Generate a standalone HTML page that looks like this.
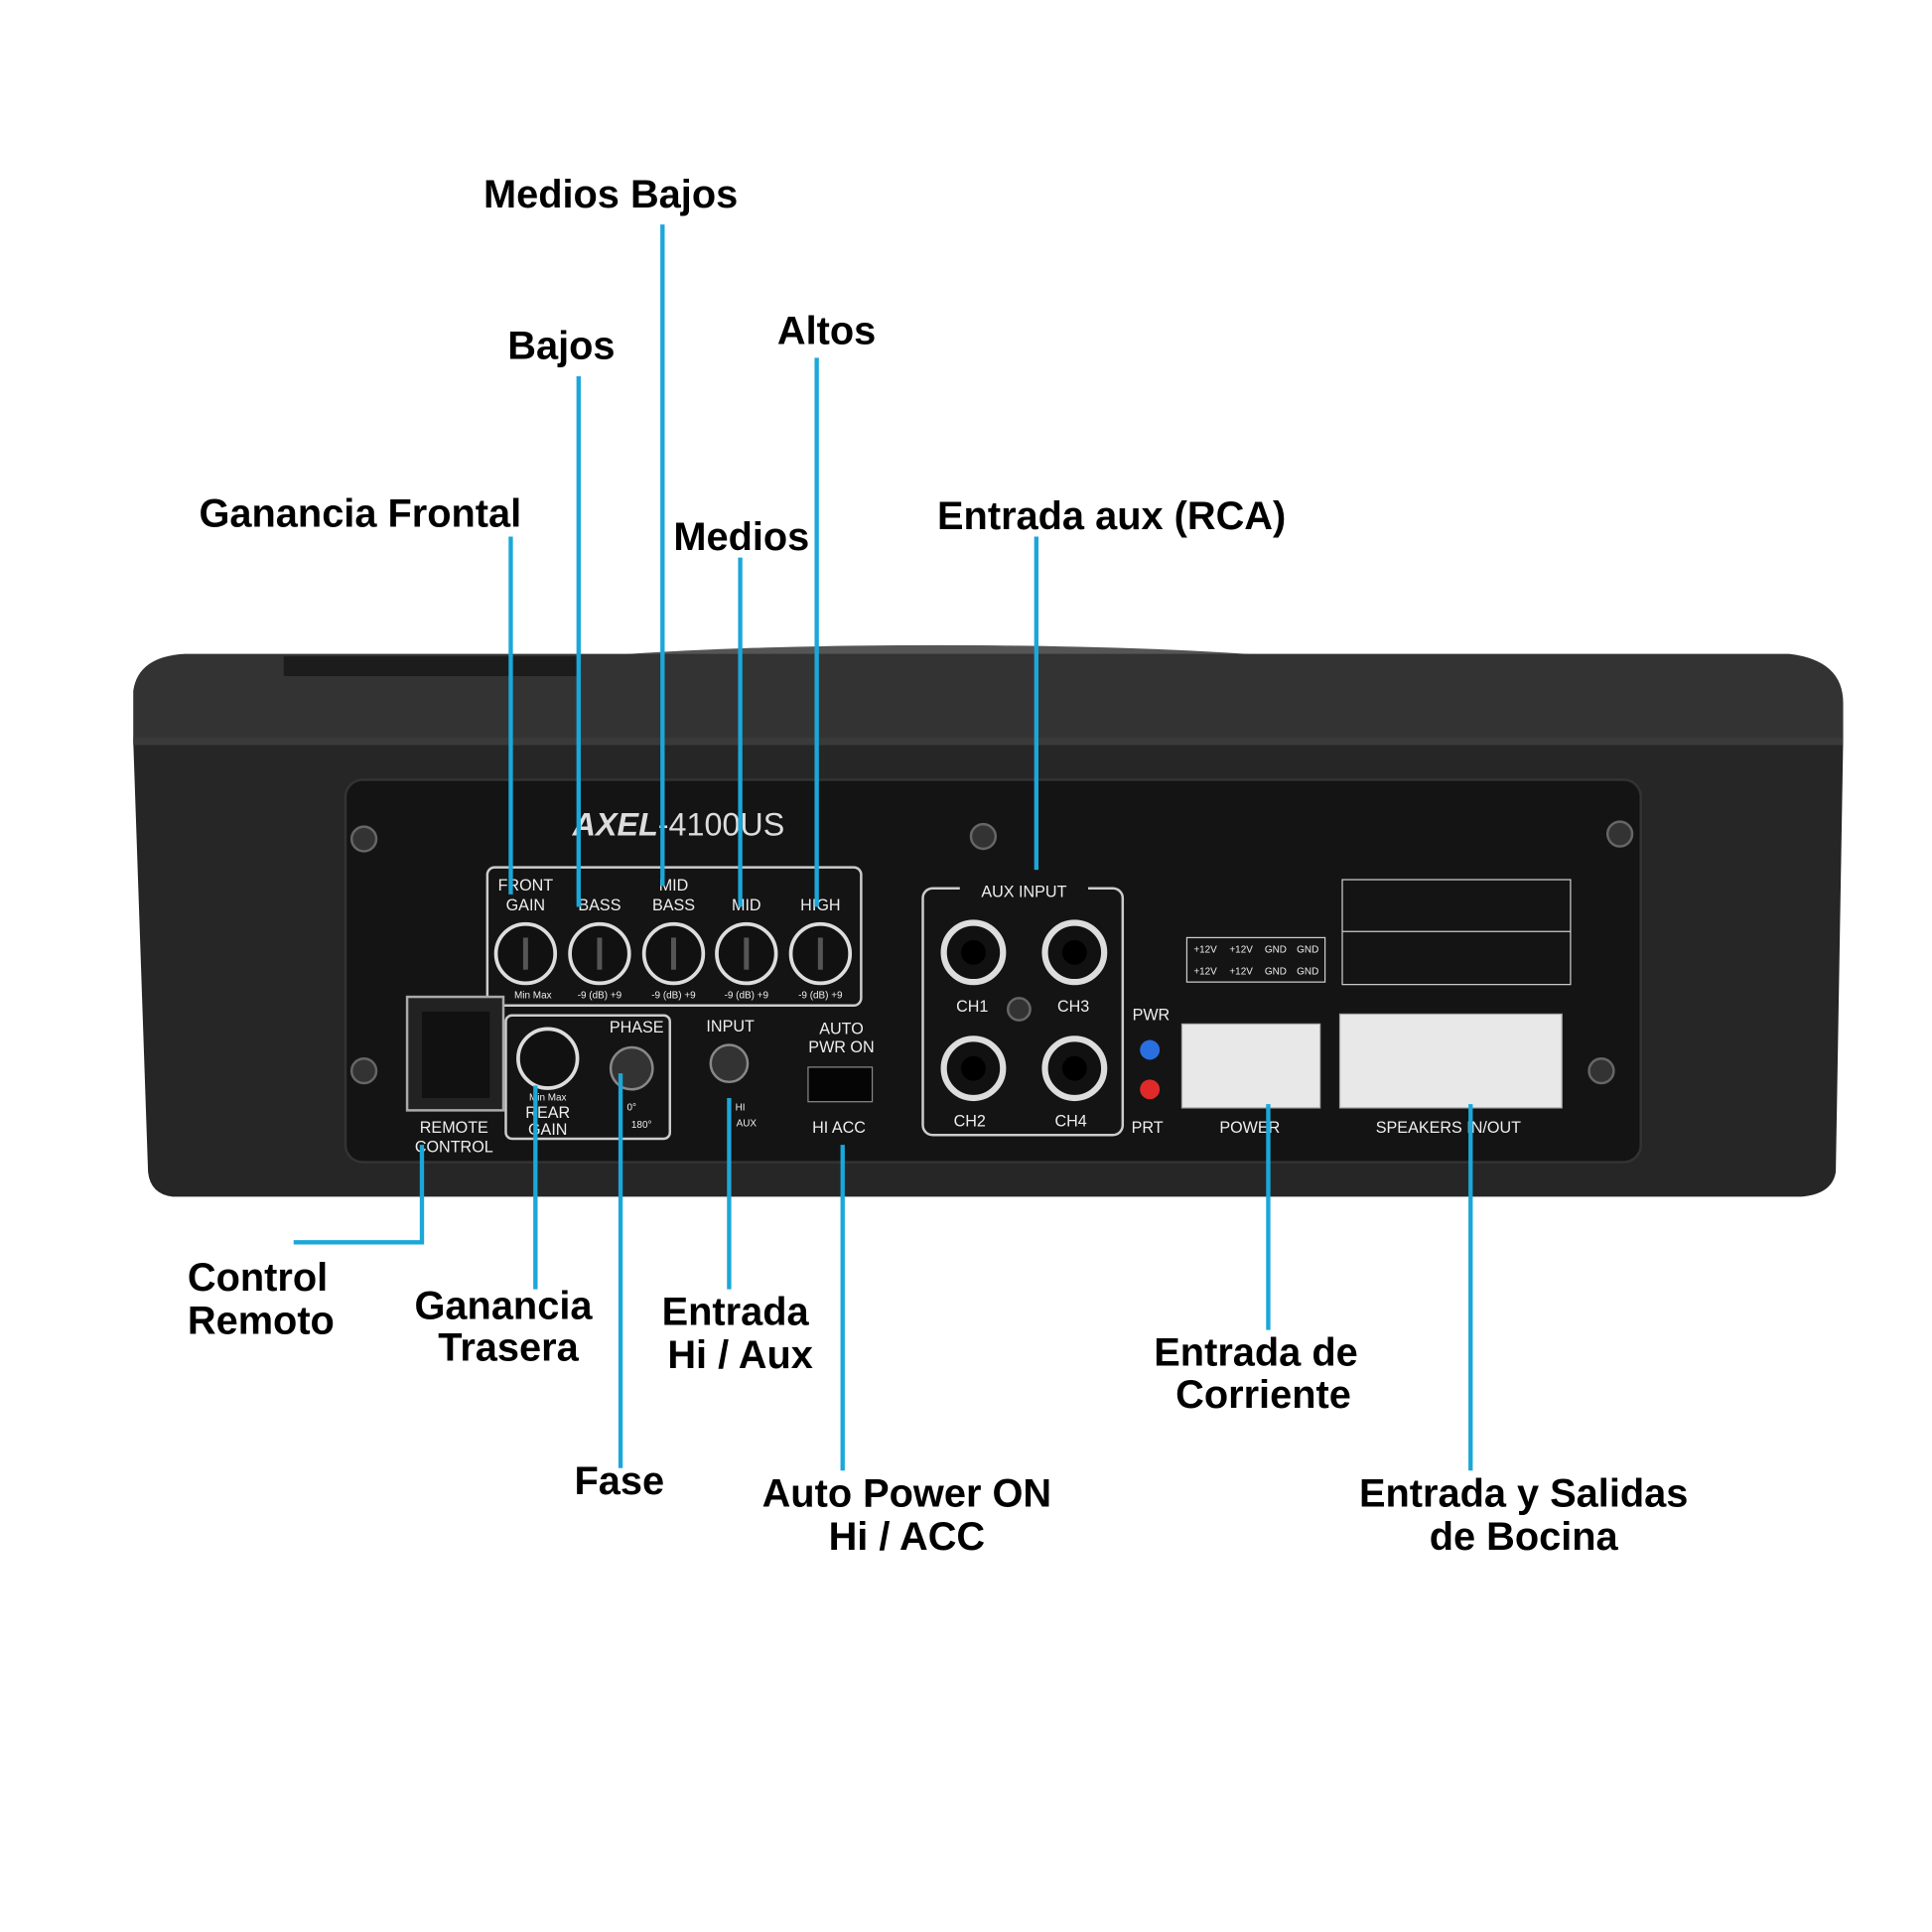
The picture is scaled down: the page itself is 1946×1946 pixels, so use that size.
<!DOCTYPE html>
<html><head><meta charset="utf-8"><style>
html,body{margin:0;padding:0;background:#fff;}
svg{display:block}
.lb{font-family:"Liberation Sans",sans-serif;font-weight:bold;font-size:32px;fill:#000;text-anchor:middle}
.s{font-family:"Liberation Sans",sans-serif;font-size:13px;fill:#eee;text-anchor:middle}
.t{font-family:"Liberation Sans",sans-serif;font-size:8px;fill:#eee;text-anchor:middle}
.bl{stroke:#1ba7d9;stroke-width:3.5;fill:none}
</style></head><body>
<svg width="1946" height="1946" viewBox="0 0 1566 1566" xmlns="http://www.w3.org/2000/svg">
<rect width="1566" height="1566" fill="#fff"/>
<ellipse cx="760" cy="545" rx="340" ry="22" fill="#555"/>
<path d="M150 530 L1450 530 Q1494 535 1494 570 L1494 600 L108 600 L108 560 Q112 532 150 530Z" fill="#333"/>
<path d="M230 532 L470 532 L470 548 L230 548Z" fill="#1c1c1c"/>
<path d="M108 600 L1494 600 L1488 950 Q1485 968 1460 970 L140 970 Q122 968 120 950Z" fill="#262626"/>
<rect x="108" y="598" width="1386" height="6" fill="#3a3a3a"/>
<rect x="280" y="632" width="1050" height="310" rx="14" fill="#141414" stroke="#333" stroke-width="2"/>
<g fill="#333" stroke="#666" stroke-width="2">
<circle cx="295" cy="680" r="10"/><circle cx="797" cy="678" r="10"/><circle cx="1313" cy="676" r="10"/>
<circle cx="295" cy="868" r="10"/><circle cx="1298" cy="868" r="10"/><circle cx="826" cy="818" r="9"/>
</g>
<text x="550" y="677" font-family="Liberation Sans,sans-serif" font-size="26" fill="#ddd" text-anchor="middle" font-style="italic" font-weight="bold">AXEL<tspan font-weight="normal" font-style="normal">-4100US</tspan></text>
<rect x="395" y="703" width="303" height="112" rx="6" fill="none" stroke="#ccc" stroke-width="2"/>
<text class="s" x="426" y="722">FRONT</text><text class="s" x="426" y="738">GAIN</text>
<text class="s" x="486" y="738">BASS</text>
<text class="s" x="546" y="722">MID</text><text class="s" x="546" y="738">BASS</text>
<text class="s" x="605" y="738">MID</text><text class="s" x="665" y="738">HIGH</text>
<g fill="#111" stroke="#ddd" stroke-width="3">
<circle cx="426" cy="773" r="24"/><circle cx="486" cy="773" r="24"/><circle cx="546" cy="773" r="24"/><circle cx="605" cy="773" r="24"/><circle cx="665" cy="773" r="24"/>
</g>
<g stroke="#555" stroke-width="4"><line x1="426" y1="760" x2="426" y2="786"/><line x1="486" y1="760" x2="486" y2="786"/><line x1="546" y1="760" x2="546" y2="786"/><line x1="605" y1="760" x2="605" y2="786"/><line x1="665" y1="760" x2="665" y2="786"/></g>
<text class="t" x="432" y="809">Min  Max</text><text class="t" x="486" y="809">-9 (dB) +9</text><text class="t" x="546" y="809">-9 (dB) +9</text><text class="t" x="605" y="809">-9 (dB) +9</text><text class="t" x="665" y="809">-9 (dB) +9</text>
<rect x="330" y="808" width="78" height="92" fill="#222" stroke="#aaa" stroke-width="2"/>
<rect x="342" y="820" width="55" height="70" fill="#111"/>
<text class="s" x="368" y="918">REMOTE</text><text class="s" x="368" y="934">CONTROL</text>
<rect x="410" y="823" width="133" height="100" rx="5" fill="none" stroke="#ccc" stroke-width="2"/>
<circle cx="444" cy="858" r="24" fill="#111" stroke="#ddd" stroke-width="3"/>
<circle cx="512" cy="866" r="17" fill="#333" stroke="#888" stroke-width="2"/>
<text class="s" x="516" y="837">PHASE</text>
<text class="t" x="444" y="892">Min  Max</text><text class="s" x="444" y="906">REAR</text><text class="s" x="444" y="920">GAIN</text>
<text class="t" x="512" y="900">0°</text><text class="t" x="520" y="914">180°</text>
<text class="s" x="592" y="836">INPUT</text>
<circle cx="591" cy="862" r="15" fill="#333" stroke="#888" stroke-width="2"/>
<text class="t" x="600" y="900">HI</text><text class="t" x="605" y="913">AUX</text>
<text class="s" x="682" y="838">AUTO</text><text class="s" x="682" y="853">PWR ON</text>
<rect x="655" y="865" width="52" height="28" fill="#050505" stroke="#888"/>
<text class="s" x="680" y="918">HI  ACC</text>
<rect x="748" y="720" width="162" height="200" rx="8" fill="none" stroke="#ccc" stroke-width="2"/>
<rect x="778" y="712" width="104" height="18" fill="#141414"/>
<text class="s" x="830" y="727" font-size="15">AUX INPUT</text>
<g fill="#111" stroke="#ddd" stroke-width="5">
<circle cx="789" cy="772" r="24"/><circle cx="871" cy="772" r="24"/><circle cx="789" cy="866" r="24"/><circle cx="871" cy="866" r="24"/>
</g>
<g fill="#000"><circle cx="789" cy="772" r="10"/><circle cx="871" cy="772" r="10"/><circle cx="789" cy="866" r="10"/><circle cx="871" cy="866" r="10"/></g>
<text class="s" x="788" y="820" font-size="15">CH1</text><text class="s" x="870" y="820" font-size="15">CH3</text>
<text class="s" x="786" y="913" font-size="15">CH2</text><text class="s" x="868" y="913" font-size="15">CH4</text>
<text class="s" x="933" y="827">PWR</text><circle cx="932" cy="851" r="8" fill="#2a6fe0"/>
<circle cx="932" cy="883" r="8" fill="#e02a2a"/><text class="s" x="930" y="918">PRT</text>
<rect x="962" y="760" width="112" height="36" fill="none" stroke="#ccc" stroke-width="1"/>
<text class="t" x="977" y="772">+12V</text><text class="t" x="1006" y="772">+12V</text><text class="t" x="1034" y="772">GND</text><text class="t" x="1060" y="772">GND</text>
<text class="t" x="977" y="790">+12V</text><text class="t" x="1006" y="790">+12V</text><text class="t" x="1034" y="790">GND</text><text class="t" x="1060" y="790">GND</text>
<rect x="958" y="830" width="112" height="68" fill="#e8e8e8" stroke="#aaa"/>
<text class="s" x="1013" y="918">POWER</text>
<rect x="1088" y="713" width="185" height="85" fill="none" stroke="#ccc" stroke-width="1"/>
<line x1="1088" y1="755" x2="1273" y2="755" stroke="#ccc"/>
<rect x="1086" y="822" width="180" height="76" fill="#e8e8e8" stroke="#aaa"/>
<text class="s" x="1174" y="918">SPEAKERS IN/OUT</text>
<g class="bl">
<line x1="537" y1="182" x2="537" y2="718"/>
<line x1="469" y1="305" x2="469" y2="735"/>
<line x1="662" y1="290" x2="662" y2="735"/>
<line x1="414" y1="435" x2="414" y2="725"/>
<line x1="600" y1="452" x2="600" y2="735"/>
<line x1="840" y1="435" x2="840" y2="705"/>
<polyline points="342,928 342,1007 238,1007"/>
<line x1="434" y1="880" x2="434" y2="1045"/>
<line x1="503" y1="870" x2="503" y2="1190"/>
<line x1="591" y1="890" x2="591" y2="1045"/>
<line x1="683" y1="928" x2="683" y2="1192"/>
<line x1="1028" y1="895" x2="1028" y2="1078"/>
<line x1="1192" y1="895" x2="1192" y2="1192"/>
</g>
<text class="lb" x="495" y="168">Medios Bajos</text>
<text class="lb" x="455" y="291">Bajos</text>
<text class="lb" x="670" y="279">Altos</text>
<text class="lb" x="292" y="427">Ganancia Frontal</text>
<text class="lb" x="601" y="446">Medios</text>
<text class="lb" x="901" y="429">Entrada aux (RCA)</text>
<text class="lb" x="152" y="1046" style="text-anchor:start">Control</text>
<text class="lb" x="152" y="1081" style="text-anchor:start">Remoto</text>
<text class="lb" x="408" y="1069">Ganancia</text><text class="lb" x="412" y="1103">Trasera</text>
<text class="lb" x="502" y="1211">Fase</text>
<text class="lb" x="596" y="1074">Entrada</text><text class="lb" x="600" y="1109">Hi / Aux</text>
<text class="lb" x="735" y="1221">Auto Power ON</text><text class="lb" x="735" y="1256">Hi / ACC</text>
<text class="lb" x="1018" y="1107">Entrada de</text><text class="lb" x="1024" y="1141">Corriente</text>
<text class="lb" x="1235" y="1221">Entrada y Salidas</text><text class="lb" x="1235" y="1256">de Bocina</text>
</svg>
</body></html>
